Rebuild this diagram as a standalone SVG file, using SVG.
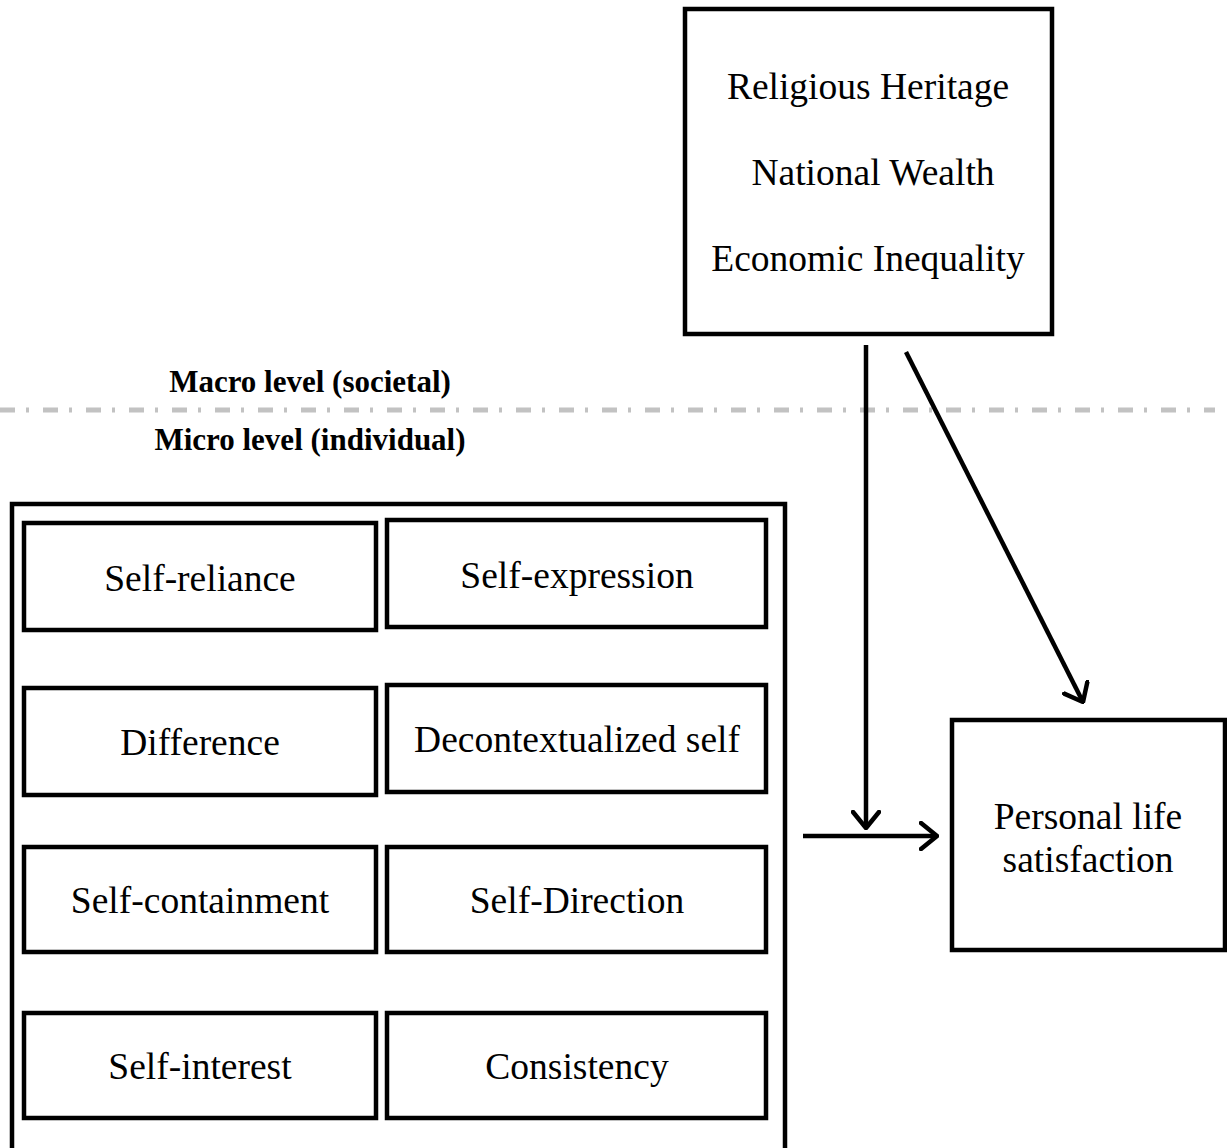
<svg xmlns="http://www.w3.org/2000/svg" width="1227" height="1148" viewBox="0 0 1227 1148">
<style>
.box{fill:#fff;stroke:#000;stroke-width:4.5}
.t{font-family:"Liberation Serif","Times New Roman",serif;font-size:37.5px;fill:#000;text-anchor:middle}
.lv{font-family:"Liberation Serif","Times New Roman",serif;font-size:31px;font-weight:bold;fill:#000;text-anchor:middle}
.c{stroke:#000;stroke-width:4.5;fill:none}
</style>
<defs>
<marker id="ah" viewBox="0 0 20 30" refX="18" refY="15" markerWidth="20" markerHeight="30" markerUnits="userSpaceOnUse" orient="auto">
<path d="M2,2 L18,15 L2,28" fill="none" stroke="#000" stroke-width="4.5" stroke-linecap="round" stroke-linejoin="round"/>
</marker>
</defs>
<rect width="1227" height="1148" fill="#fff"/>
<line x1="0" y1="410" x2="1215" y2="410" stroke="#c2c2c2" stroke-width="5" stroke-dasharray="15,11,3,14"/>
<text class="lv" x="310" y="392">Macro level (societal)</text>
<text class="lv" x="310" y="450">Micro level (individual)</text>
<g id="macro">
<rect class="box" x="685" y="9" width="367" height="325"/>
<text class="t" x="868" y="99">Religious Heritage</text>
<text class="t" x="873" y="185">National Wealth</text>
<text class="t" x="868" y="271">Economic Inequality</text>
</g>
<g id="micro">
<rect class="box" x="12" y="504" width="773" height="700"/>
</g>
<g id="self-reliance"><rect class="box" x="24" y="523" width="352" height="107"/><text class="t" x="200" y="591">Self-reliance</text></g>
<g id="self-expression"><rect class="box" x="387" y="520" width="379" height="107"/><text class="t" x="577" y="588">Self-expression</text></g>
<g id="difference"><rect class="box" x="24" y="688" width="352" height="107"/><text class="t" x="200" y="755">Difference</text></g>
<g id="decontextualized"><rect class="box" x="387" y="685" width="379" height="107"/><text class="t" x="577" y="752">Decontextualized self</text></g>
<g id="self-containment"><rect class="box" x="24" y="847" width="352" height="105"/><text class="t" x="200" y="913">Self-containment</text></g>
<g id="self-direction"><rect class="box" x="387" y="847" width="379" height="105"/><text class="t" x="577" y="913">Self-Direction</text></g>
<g id="self-interest"><rect class="box" x="24" y="1013" width="352" height="105"/><text class="t" x="200" y="1079">Self-interest</text></g>
<g id="consistency"><rect class="box" x="387" y="1013" width="379" height="105"/><text class="t" x="577" y="1079">Consistency</text></g>
<g id="satisfaction">
<rect class="box" x="952" y="720" width="273" height="230"/>
<text class="t" x="1088" y="829">Personal life</text>
<text class="t" x="1088" y="872">satisfaction</text>
</g>
<g id="connectors">
<line class="c" x1="866" y1="345" x2="866" y2="828" marker-end="url(#ah)"/>
<line class="c" x1="906" y1="352" x2="1083" y2="702" marker-end="url(#ah)"/>
<line class="c" x1="803" y1="836" x2="937" y2="836" marker-end="url(#ah)"/>
</g>
</svg>
